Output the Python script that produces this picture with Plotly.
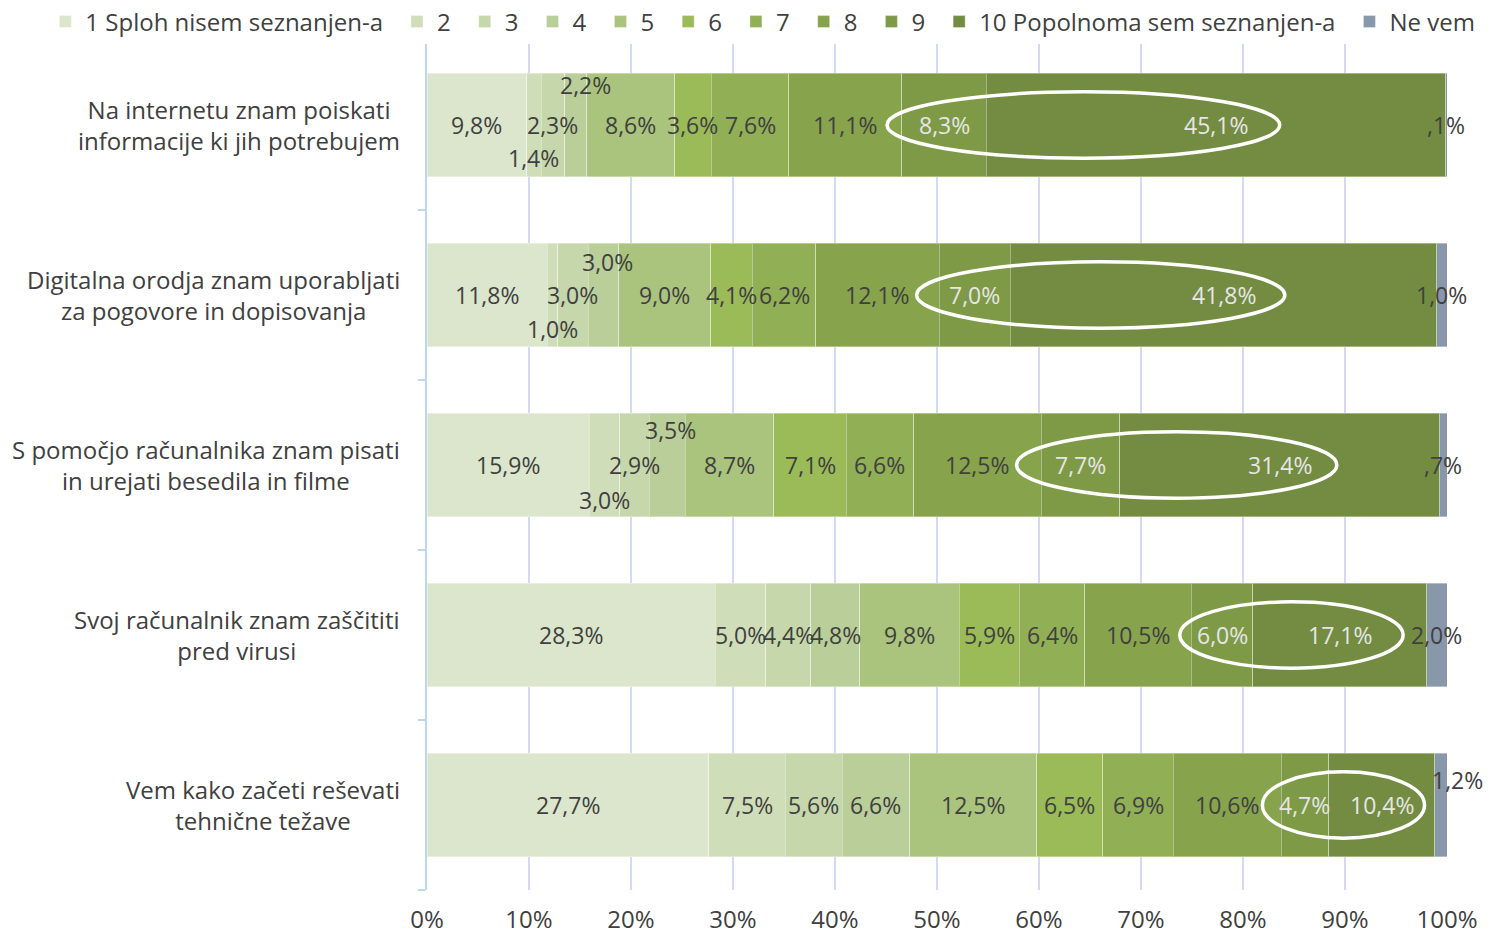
import plotly.graph_objects as go

categories = [
    "Na internetu znam poiskati<br>informacije ki jih potrebujem",
    "Digitalna orodja znam uporabljati<br>za pogovore in dopisovanja",
    "S pomočjo računalnika znam pisati<br>in urejati besedila in filme",
    "Svoj računalnik znam zaščititi<br>pred virusi",
    "Vem kako začeti reševati<br>tehnične težave",
]

series_names = ["1 Sploh nisem seznanjen-a", "2", "3", "4", "5", "6", "7", "8", "9",
                "10 Popolnoma sem seznanjen-a", "Ne vem"]

s1 = [9.8, 11.8, 15.9, 28.3, 27.7]
s2 = [1.4, 1.0, 3.0, 5.0, 7.5]
s3 = [2.3, 3.0, 2.9, 4.4, 5.6]
s4 = [2.2, 3.0, 3.5, 4.8, 6.6]
s5 = [8.6, 9.0, 8.7, 9.8, 12.5]
s6 = [3.6, 4.1, 7.1, 5.9, 6.5]
s7 = [7.6, 6.2, 6.6, 6.4, 6.9]
s8 = [11.1, 12.1, 12.5, 10.5, 10.6]
s9 = [8.3, 7.0, 7.7, 6.0, 4.7]
s10 = [45.1, 41.8, 31.4, 17.1, 10.4]
ne_vem = [0.1, 1.0, 0.7, 2.0, 1.2]

all_series = [s1, s2, s3, s4, s5, s6, s7, s8, s9, s10, ne_vem]

colors = ["#dce6cd", "#d0ddb9", "#c6d7ab", "#b9ce98", "#aac47d", "#9bbb59",
          "#91af55", "#87a44c", "#7e9a46", "#738c41", "#8997ab"]

# highlighted ranges (percent of bar) drawn as white ellipses
highlight = [(45.1, 83.6), (48.0, 84.1), (57.8, 89.2), (73.8, 95.7), (81.9, 97.8)]

# manual label nudges (bar index, series index) -> (xshift, yshift) in px
nudges = {
    (0, 1): (0, -33), (0, 3): (10, 40),
    (1, 1): (0, -34), (1, 3): (4, 33),
    (2, 1): (0, -35), (2, 3): (3, 35),
    (4, 10): (17, 25),
}

FONT = "Open Sans"
TXT = "#404040"

def fmt(v):
    s = f"{v:.1f}".replace(".", ",")
    if s.startswith("0"):
        s = s[1:]
    return s + "%"

yvals = list(range(len(categories)))

fig = go.Figure()
for name, vals, col in zip(series_names, all_series, colors):
    fig.add_trace(go.Bar(
        y=yvals,
        x=vals,
        name=name,
        orientation="h",
        marker=dict(color=col, line=dict(color="rgba(255,255,255,0.35)", width=1)),
        width=0.61,
        hoverinfo="x+name",
    ))

annotations = []
shapes = []
for i in range(len(categories)):
    total = sum(s[i] for s in all_series)
    cum = 0
    for j, s in enumerate(all_series):
        v = s[i]
        center = (cum + v / 2) / total * 100
        cum += v
        dx, dy = nudges.get((i, j), (0, 0))
        annotations.append(dict(
            x=center, y=i, xref="x", yref="y", text=fmt(v), showarrow=False,
            xshift=dx, yshift=dy,
            font=dict(family=FONT, size=23, color="#e6e6e6" if j in (8, 9) else TXT),
        ))
    # category label: block right-aligned next to the axis, lines centred
    annotations.append(dict(
        x=-0.0245, y=i, xref="paper", yref="y", text=categories[i], showarrow=False,
        xanchor="right", align="center",
        font=dict(family=FONT, size=24, color=TXT),
    ))
    x0, x1 = highlight[i]
    shapes.append(dict(
        type="circle", xref="x", yref="y", x0=x0, x1=x1, y0=i - 0.195, y1=i + 0.195,
        line=dict(color="white", width=3.5), layer="above",
    ))

fig.update_layout(
    barmode="stack",
    barnorm="percent",
    width=1488,
    height=935,
    margin=dict(l=427, r=41, t=40, b=45, autoexpand=False),
    plot_bgcolor="white",
    paper_bgcolor="white",
    font=dict(family=FONT, size=24, color=TXT),
    annotations=annotations,
    shapes=shapes,
    showlegend=True,
    legend=dict(
        orientation="h", xref="paper", yref="paper", x=-0.383, y=1.0212,
        xanchor="left", yanchor="middle", font=dict(family=FONT, size=24, color=TXT),
        itemwidth=30, indentation=9, traceorder="normal", tracegroupgap=0,
    ),
    xaxis=dict(
        range=[0, 100], tickvals=list(range(0, 101, 10)),
        ticktext=[f"{t}%" for t in range(0, 101, 10)],
        showgrid=True, gridcolor="#d3daf6", gridwidth=2, zeroline=False,
        showline=False, ticks="", ticklabelstandoff=13,
        tickfont=dict(family=FONT, size=24, color=TXT),
    ),
    yaxis=dict(
        type="linear", range=[4.5, -0.5], tickvals=[-0.5, 0.5, 1.5, 2.5, 3.5, 4.5],
        showticklabels=False, ticks="outside", ticklen=7, tickcolor="#bdd7ee", tickwidth=2,
        showline=True, linecolor="#bdd7ee", linewidth=2, showgrid=False, zeroline=False,
    ),
)

fig.write_html("out.html", config={"displayModeBar": False},
               post_script="document.body.style.margin='0';")
